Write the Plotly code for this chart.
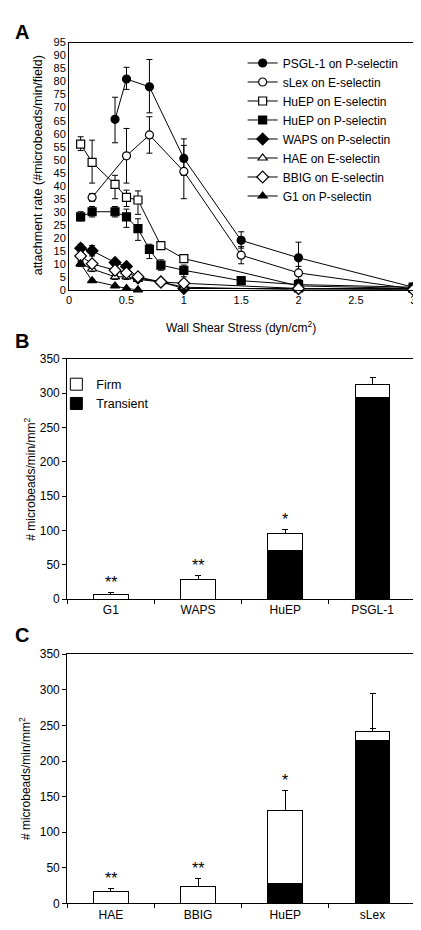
import plotly.graph_objects as go

# ---------------- Panel A data ----------------
names_a = ["PSGL-1 on P-selectin", "sLex on E-selectin", "HuEP on E-selectin", "HuEP on P-selectin",
           "WAPS on P-selectin", "HAE on E-selectin", "BBIG on E-selectin", "G1 on P-selectin"]
symbols_a = ["circle", "circle", "square", "square", "diamond", "triangle-up", "diamond", "triangle-up"]
filled_a = [True, False, False, True, True, False, False, True]

psgl_x = [0.4, 0.5, 0.7, 1.0, 1.5, 2.0, 3.0]
psgl_y = [65.5, 81.0, 78.0, 50.5, 19.0, 12.3, 1.0]
psgl_up = [8.5, 4.5, 10.5, 7.5, 3.3, 6.0, 0]
psgl_dn = [9.0, 4.0, 10.0, 6.5, 3.0, 6.0, 0]

slex_x = [0.2, 0.5, 0.7, 1.0, 1.5, 2.0, 3.0]
slex_y = [35.5, 51.5, 59.5, 45.5, 13.3, 6.5, 0.3]
slex_up = [1.5, 10.5, 7.0, 10.0, 3.3, 2.5, 0]
slex_dn = [1.5, 10.5, 7.0, 10.5, 3.3, 2.5, 0]

huepe_x = [0.1, 0.2, 0.4, 0.5, 0.6, 0.8, 1.0, 2.0, 3.0]
huepe_y = [56.0, 49.0, 40.5, 35.5, 34.5, 17.0, 12.0, 1.5, 0.5]
huepe_up = [2.8, 8.5, 3.5, 2.8, 3.5, 1.5, 1.0, 0, 0]
huepe_dn = [2.5, 8.0, 5.5, 3.5, 5.5, 1.0, 1.0, 0, 0]

huepp_x = [0.1, 0.2, 0.4, 0.5, 0.6, 0.7, 0.8, 1.0, 1.5, 2.0, 3.0]
huepp_y = [28.0, 30.0, 30.0, 28.0, 23.5, 15.5, 9.5, 7.5, 3.5, 2.0, 1.0]
huepp_up = [2.0, 2.0, 2.0, 3.0, 3.8, 2.0, 2.0, 2.0, 1.0, 0, 0]
huepp_dn = [1.5, 2.0, 2.0, 4.0, 4.5, 3.5, 2.0, 2.5, 1.5, 0, 0]

waps_x = [0.1, 0.2, 0.4, 0.5, 0.6, 0.8, 1.0, 2.0, 3.0]
waps_y = [16.0, 15.0, 10.5, 9.0, 4.5, 3.0, 0.5, 0.5, 0.5]
waps_up = [1.5, 2.0, 1.0, 1.0, 1.0, 0.5, 0, 0, 0]
waps_dn = [1.0, 2.0, 1.0, 1.0, 1.0, 0.5, 0, 0, 0]

hae_x = [0.1, 0.2, 0.4, 0.5, 0.6, 0.8, 1.0, 2.0, 3.0]
hae_y = [10.0, 8.0, 5.0, 5.0, 4.0, 3.0, 1.0, 0.0, 0.0]
hae_up = [1.0, 1.0, 1.0, 1.0, 0.5, 0.5, 0, 0, 0]
hae_dn = [1.0, 1.0, 1.0, 1.0, 0.5, 0.5, 0, 0, 0]

bbig_x = [0.1, 0.2, 0.4, 0.5, 0.6, 0.8, 1.0, 2.0, 3.0]
bbig_y = [13.0, 10.0, 7.5, 6.5, 5.0, 3.0, 2.5, 0.5, 0.0]
bbig_up = [1.0, 1.0, 1.0, 1.0, 0.5, 0.5, 0.5, 0, 0]
bbig_dn = [1.0, 1.0, 1.0, 1.0, 0.5, 0.5, 0.5, 0, 0]

g1_x = [0.1, 0.2, 0.4, 0.5, 0.6]
g1_y = [10.0, 3.5, 1.5, 0.5, 0.0]
g1_up = [1.0, 0.5, 0.3, 0.3, 0]
g1_dn = [1.0, 0.5, 0.3, 0.3, 0]

series_a = [
    (psgl_x, psgl_y, psgl_up, psgl_dn),
    (slex_x, slex_y, slex_up, slex_dn),
    (huepe_x, huepe_y, huepe_up, huepe_dn),
    (huepp_x, huepp_y, huepp_up, huepp_dn),
    (waps_x, waps_y, waps_up, waps_dn),
    (hae_x, hae_y, hae_up, hae_dn),
    (bbig_x, bbig_y, bbig_up, bbig_dn),
    (g1_x, g1_y, g1_up, g1_dn),
]

# ---------------- Panel B data ----------------
cats_b = ["G1", "WAPS", "HuEP", "PSGL-1"]
trans_b = [0, 0, 71, 294]
trans_b_err = [0, 0, 16, 28]
firm_b = [7, 29, 24, 19]
firm_b_err = [2, 5, 7, 9]
stars_b = ["**", "**", "*", ""]

# ---------------- Panel C data ----------------
cats_c = ["HAE", "BBIG", "HuEP", "sLex"]
trans_c = [0, 0, 28, 229]
trans_c_err = [0, 0, 11, 16]
firm_c = [17, 24, 103, 13]
firm_c_err = [3.5, 11, 28, 53]
stars_c = ["**", "**", "*", ""]

FONT = "Liberation Sans, Arial, sans-serif"
W, H = 421, 930
fig = go.Figure()

for name, sym, fill, (xs, ys, up, dn) in zip(names_a, symbols_a, filled_a, series_a):
    sz = 9 if sym == "diamond" else 8
    fig.add_trace(go.Scatter(
        x=xs, y=ys, name=name, mode="lines+markers",
        line=dict(color="black", width=1),
        marker=dict(symbol=sym, size=sz, color="black" if fill else "white",
                    line=dict(color="black", width=1.2)),
        error_y=dict(type="data", array=up, arrayminus=dn, color="black", thickness=1, width=3),
        cliponaxis=False, xaxis="x", yaxis="y", legend="legend"))

def add_stack(cats, trans, trans_err, firm, firm_err, xa, ya, show):
    zeros = [0] * len(cats)
    fig.add_trace(go.Bar(x=cats, y=trans, name="Transient", marker=dict(color="black", line=dict(color="black", width=1)),
                         error_y=dict(type="data", array=trans_err, arrayminus=zeros, symmetric=False,
                                      color="black", thickness=1, width=3),
                         xaxis=xa, yaxis=ya, legend="legend2", showlegend=show, width=0.4, legendrank=2))
    fig.add_trace(go.Bar(x=cats, y=firm, name="Firm", marker=dict(color="white", line=dict(color="black", width=1)),
                         error_y=dict(type="data", array=firm_err, arrayminus=zeros, symmetric=False,
                                      color="black", thickness=1, width=3),
                         xaxis=xa, yaxis=ya, legend="legend2", showlegend=show, width=0.4, legendrank=1))

add_stack(cats_b, trans_b, trans_b_err, firm_b, firm_b_err, "x2", "y2", True)
add_stack(cats_c, trans_c, trans_c_err, firm_c, firm_c_err, "x3", "y3", False)

annotations = []
for cats, trans, firm, ferr, stars, xr, yr in [
        (cats_b, trans_b, firm_b, firm_b_err, stars_b, "x2", "y2"),
        (cats_c, trans_c, firm_c, firm_c_err, stars_c, "x3", "y3")]:
    for c, t, f, e, s in zip(cats, trans, firm, ferr, stars):
        if s:
            annotations.append(dict(x=c, y=t + f + e, xref=xr, yref=yr, text=s, showarrow=False,
                                    yanchor="middle", yshift=10, font=dict(size=16, color="black")))

for txt, yy in [("A", 17), ("B", 331), ("C", 629)]:
    annotations.append(dict(x=11 / W, y=1 - yy / H, xref="paper", yref="paper", text="<b>%s</b>" % txt,
                            showarrow=False, xanchor="center", yanchor="middle",
                            font=dict(size=20, color="black")))

# axis titles
annotations.append(dict(x=233 / W, y=1 - 317 / H, xref="paper", yref="paper",
                        text="Wall Shear Stress (dyn/cm<sup>2</sup>)", showarrow=False,
                        xanchor="center", yanchor="middle", font=dict(size=12, color="black")))
annotations.append(dict(x=27 / W, y=1 - 153 / H, xref="paper", yref="paper",
                        text="attachment rate (#microbeads/min/field)", showarrow=False, textangle=-90,
                        xanchor="center", yanchor="middle", font=dict(size=12.5, color="black")))
annotations.append(dict(x=19 / W, y=1 - 471 / H, xref="paper", yref="paper",
                        text="# microbeads/min/mm<sup>2</sup>", showarrow=False, textangle=-90,
                        xanchor="center", yanchor="middle", font=dict(size=12, color="black")))
annotations.append(dict(x=15 / W, y=1 - 775 / H, xref="paper", yref="paper",
                        text="# microbeads/min/mm<sup>2</sup>", showarrow=False, textangle=-90,
                        xanchor="center", yanchor="middle", font=dict(size=12, color="black")))

axis_a = dict(showline=True, linecolor="black", linewidth=1.3, mirror=True, showgrid=False, zeroline=False,
              tickfont=dict(size=11, color="black"), ticks="")
axis_b = dict(showline=True, linecolor="black", linewidth=1, mirror=True, showgrid=False, zeroline=False,
              tickfont=dict(size=12, color="black"), ticks="outside", ticklen=4, tickcolor="black")

fig.update_layout(
    width=W, height=H, margin=dict(l=0, r=0, t=0, b=0),
    paper_bgcolor="white", plot_bgcolor="white",
    font=dict(family=FONT, color="black", size=11),
    barmode="stack",
    xaxis=dict(domain=[59 / W, 408 / W], range=[0, 3], dtick=0.5, anchor="y", **axis_a),
    yaxis=dict(domain=[1 - 279 / H, 1 - 28 / H], range=[0, 95], dtick=5, anchor="x", **axis_a),
    xaxis2=dict(domain=[57 / W, 411 / W], anchor="y2", tickson="boundaries", **axis_b),
    yaxis2=dict(domain=[1 - 593 / H, 1 - 349 / H], range=[0, 350], dtick=50, anchor="x2", **axis_b),
    xaxis3=dict(domain=[57 / W, 411 / W], anchor="y3", tickson="boundaries", **axis_b),
    yaxis3=dict(domain=[1 - 902 / H, 1 - 649 / H], range=[0, 350], dtick=50, anchor="x3", **axis_b),
    legend=dict(x=235 / W, y=1 - 34 / H, xanchor="left", yanchor="top", bgcolor="rgba(0,0,0,0)",
                font=dict(size=12), tracegroupgap=0, itemwidth=30),
    legend2=dict(x=46 / W, y=1 - 360 / H, xanchor="left", yanchor="top", bgcolor="rgba(0,0,0,0)",
                 font=dict(size=12.5), traceorder="normal"),
    annotations=annotations,
    showlegend=True,
)

fig.write_html("out.html")
